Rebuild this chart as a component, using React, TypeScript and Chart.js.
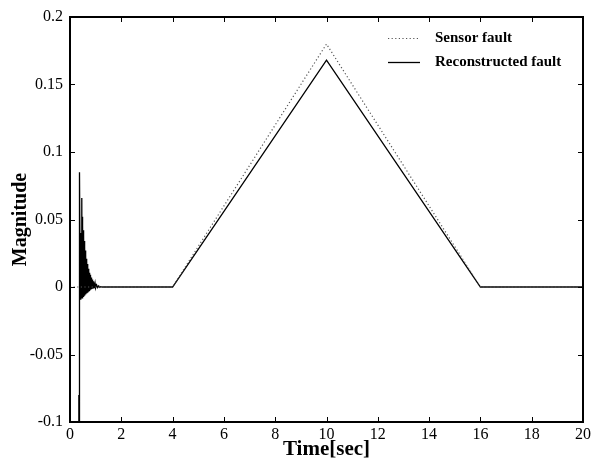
import React, { useEffect, useRef } from "react";
import { Chart, registerables } from "chart.js";

Chart.register(...registerables);

// Sensor fault (dotted)
const sensorTime = [0, 4, 10, 16, 20];
const sensorValue = [0, 0, 0.18, 0, 0];

// Reconstructed fault (solid) – initial transient then ramp
const recTime = [
  0, 0.335, 0.34, 0.345, 0.35, 0.355,
  0.36, 0.38, 0.4, 0.42, 0.44,
  0.46, 0.47, 0.48, 0.49, 0.5, 0.51, 0.52, 0.53, 0.54, 0.55, 0.56, 0.57, 0.58,
  0.59, 0.6, 0.61, 0.62, 0.63, 0.64, 0.65, 0.66, 0.67, 0.68, 0.69, 0.7, 0.71,
  0.72, 0.73, 0.74, 0.75, 0.76, 0.77, 0.78, 0.79, 0.8, 0.81, 0.82, 0.83, 0.84,
  0.85, 0.86, 0.87, 0.88, 0.89, 0.9,
  0.92, 0.94, 0.96, 0.98, 1.0, 1.04, 1.08, 1.12, 1.16, 1.2, 1.25,
  4, 10, 16, 20,
];
const recValue = [
  -0.3, -0.3, -0.08, -0.3, -0.085, -0.3,
  -0.023, 0.085, -0.009, 0.04, -0.008,
  0.066, -0.008, 0.052, -0.0075, 0.046, -0.007, 0.042, -0.0065, 0.038, -0.006,
  0.034, -0.0055, 0.03, -0.005, 0.027, -0.0047, 0.024, -0.0044, 0.021, -0.004,
  0.019, -0.0037, 0.017, -0.0034, 0.015, -0.0031, 0.0135, -0.0028, 0.012,
  -0.0025, 0.0105, -0.0023, 0.009, -0.0021, 0.008, -0.0019, 0.007, -0.0017,
  0.0062, -0.0015, 0.0055, -0.0013, 0.0048, -0.0012, 0.0042,
  -0.001, 0.0032, -0.0008, 0.0024, -0.0006, 0.0015, -0.0004, 0.0008, -0.0002, 0.0003, 0,
  0, 0.168, 0, 0,
];

const xMin = 0;
const xMax = 20;
const xStep = 2;
const yMin = -0.1;
const yMax = 0.2;
const yStep = 0.05;

const seriesLabels = ["Sensor fault", "Reconstructed fault"];
const xTitle = "Time[sec]";
const yTitle = "Magnitude";

const FONT = '"Liberation Serif", "Times New Roman", serif';

const framePlugin = {
  id: "frameTicks",
  afterDraw(chart: any) {
    const { ctx, chartArea } = chart;
    const xs = chart.scales.x;
    const ys = chart.scales.y;
    const L = 5;
    ctx.save();
    ctx.strokeStyle = "#000";
    ctx.lineWidth = 1;
    ctx.beginPath();
    xs.ticks.forEach((t: any) => {
      const px = Math.round(xs.getPixelForValue(t.value)) + 0.5;
      ctx.moveTo(px, chartArea.bottom);
      ctx.lineTo(px, chartArea.bottom - L);
      ctx.moveTo(px, chartArea.top);
      ctx.lineTo(px, chartArea.top + L);
    });
    ys.ticks.forEach((t: any) => {
      const py = Math.round(ys.getPixelForValue(t.value)) + 0.5;
      ctx.moveTo(chartArea.left, py);
      ctx.lineTo(chartArea.left + L, py);
      ctx.moveTo(chartArea.right, py);
      ctx.lineTo(chartArea.right - L, py);
    });
    ctx.stroke();
    ctx.lineWidth = 2;
    ctx.strokeRect(
      chartArea.left,
      chartArea.top,
      chartArea.right - chartArea.left,
      chartArea.bottom - chartArea.top
    );
    // legend
    const x0 = chartArea.left + 318;
    const rows = [chartArea.top + 21, chartArea.top + 45];
    ctx.font = "bold 15px " + FONT;
    ctx.textBaseline = "middle";
    ctx.fillStyle = "#000";
    chart.data.datasets.forEach((ds: any, i: number) => {
      const y = Math.round(rows[i]) + 0.5;
      ctx.beginPath();
      ctx.strokeStyle = ds.borderColor;
      ctx.lineWidth = ds.borderWidth;
      ctx.setLineDash(ds.borderDash || []);
      ctx.moveTo(x0, y);
      ctx.lineTo(x0 + 32, y);
      ctx.stroke();
      ctx.setLineDash([]);
      ctx.fillText(ds.label, x0 + 47, rows[i]);
    });
    ctx.restore();
  },
};

export default function App() {
  const ref = useRef<HTMLCanvasElement>(null);
  useEffect(() => {
    const canvas = ref.current;
    if (!canvas) return;
    const chart = new Chart(canvas, {
      type: "line",
      data: {
        datasets: [
          {
            label: seriesLabels[0],
            data: sensorTime.map((t, i) => ({ x: t, y: sensorValue[i] })),
            borderColor: "#555",
            borderWidth: 1.2,
            borderDash: [1.2, 2.4],
            pointRadius: 0,
            tension: 0,
          },
          {
            label: seriesLabels[1],
            data: recTime.map((t, i) => ({ x: t, y: recValue[i] })),
            borderColor: "#000",
            borderWidth: 1.3,
            pointRadius: 0,
            tension: 0,
          },
        ],
      },
      options: {
        responsive: false,
        animation: false,
        layout: { padding: { top: 17, right: 10, left: 0, bottom: 0 } },
        plugins: {
          legend: { display: false },
          tooltip: { enabled: false },
        },
        scales: {
          x: {
            type: "linear",
            min: xMin,
            max: xMax,
            grid: { display: false, drawTicks: false },
            border: { display: false },
            ticks: {
              stepSize: xStep,
              autoSkip: false,
              maxRotation: 0,
              padding: 3,
              color: "#000",
              font: { family: FONT, size: 16 },
            },
            title: {
              display: true,
              text: xTitle,
              color: "#000",
              font: { family: FONT, size: 21, weight: "bold" },
              padding: { top: 0, bottom: 1 },
            },
            afterFit: (s: any) => {
              s.height = 41;
            },
          },
          y: {
            min: yMin,
            max: yMax,
            grid: { display: false, drawTicks: false },
            border: { display: false },
            ticks: {
              stepSize: yStep,
              padding: 7,
              color: "#000",
              font: { family: FONT, size: 16 },
              callback: (v: any) => String(+Number(v).toFixed(2)),
            },
            title: {
              display: true,
              text: yTitle,
              color: "#000",
              font: { family: FONT, size: 20, weight: "bold" },
              padding: { top: 9, bottom: 0 },
            },
            afterFit: (s: any) => {
              s.width = 70;
            },
          },
        },
      },
      plugins: [framePlugin],
    });
    return () => chart.destroy();
  }, []);
  return (
    <div style={{ position: "fixed", left: 0, top: 0, width: 594, height: 463, background: "#fff" }}>
      <canvas ref={ref} width={594} height={463} />
    </div>
  );
}
